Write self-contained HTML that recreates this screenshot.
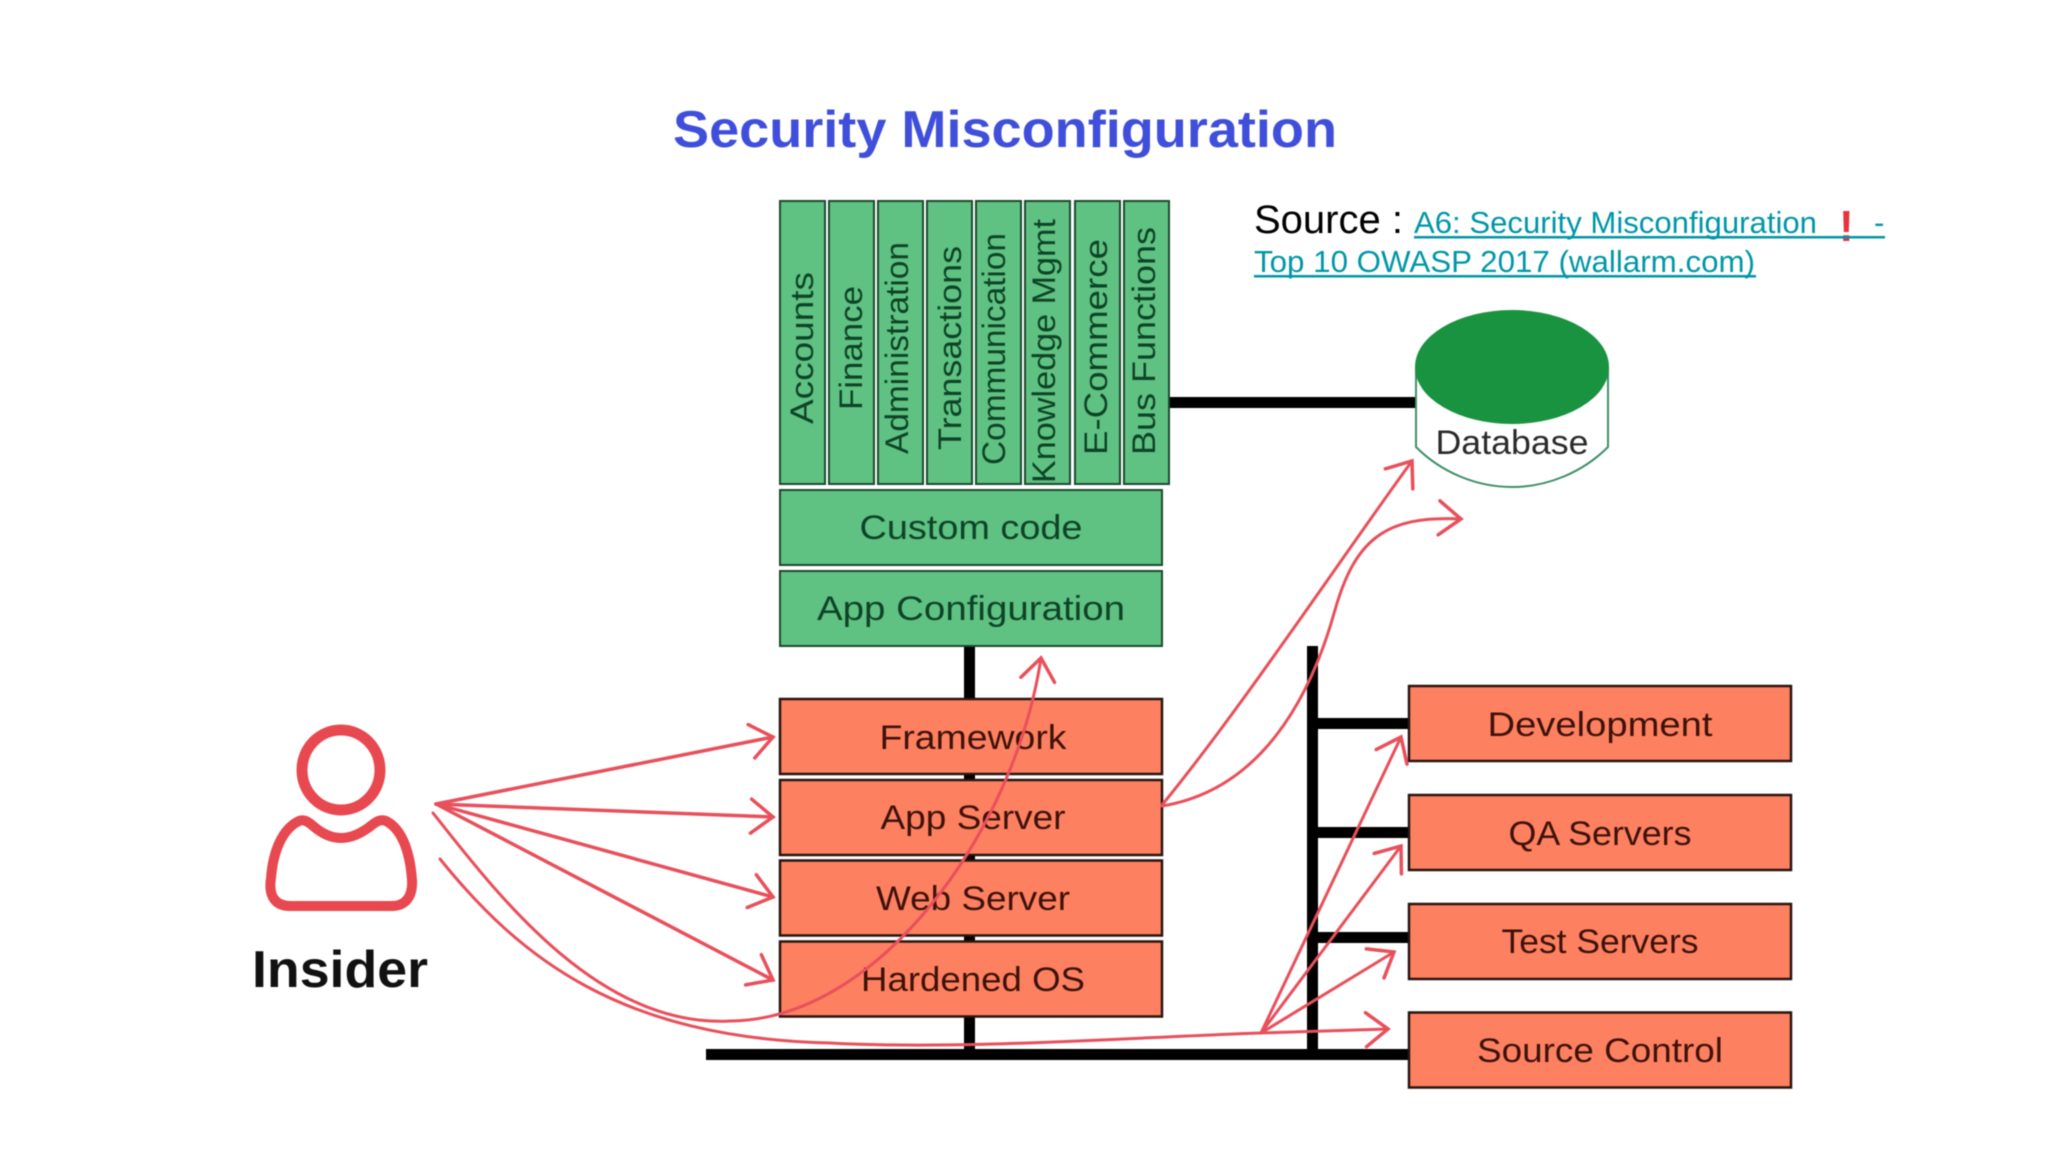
<!DOCTYPE html>
<html><head><meta charset="utf-8"><style>
html,body{margin:0;padding:0;background:#fff}
svg{display:block;filter:blur(0.5px)}
text{font-family:"Liberation Sans",sans-serif}
.g{fill:#5fc182;stroke:#1d4a2e;stroke-width:2}
.o{fill:#fd8060;stroke:#2a1410;stroke-width:2.5}
.gt{fill:#0e4426;font-size:34px;text-anchor:middle}
.ot{fill:#3d120a;font-size:34px;text-anchor:middle}
.v{fill:#0e4426;font-size:32px}
.r{fill:none;stroke:#e8505b;stroke-width:3;stroke-linecap:round}
.rt{stroke-width:3.5}
.l{fill:#0097a7;font-size:31px}
</style></head><body>
<svg width="2048" height="1152" viewBox="0 0 2048 1152" xmlns="http://www.w3.org/2000/svg">
<defs>
<marker id="a" markerUnits="userSpaceOnUse" markerWidth="50" markerHeight="50" refX="30" refY="25" orient="auto">
<path d="M8 8 L30 25 L8 42" fill="none" stroke="#e8505b" stroke-width="3.5" stroke-linecap="round"/>
</marker>
</defs>
<rect width="2048" height="1152" fill="#fff"/>

<text x="673" y="147" font-size="52" font-weight="bold" fill="#3f4fdb" textLength="664" lengthAdjust="spacingAndGlyphs">Security Misconfiguration</text>

<!-- black connectors -->
<rect x="1162" y="397" width="260" height="11" fill="#000"/>
<rect x="967" y="640" width="11" height="415" fill="#000" transform="translate(-3,0)"/>
<rect x="706" y="1049" width="710" height="11" fill="#000"/>
<rect x="1307" y="646" width="11" height="408" fill="#000"/>
<rect x="1307" y="718" width="105" height="11" fill="#000"/>
<rect x="1307" y="827" width="105" height="11" fill="#000"/>
<rect x="1307" y="932" width="105" height="11" fill="#000"/>

<!-- green columns -->
<g transform="translate(-2,-1)">
<rect class="g" x="782" y="202" width="45" height="283"/>
<rect class="g" x="831" y="202" width="45" height="283"/>
<rect class="g" x="880" y="202" width="45" height="283"/>
<rect class="g" x="929" y="202" width="45" height="283"/>
<rect class="g" x="978" y="202" width="45" height="283"/>
<rect class="g" x="1027" y="202" width="45" height="283"/>
<rect class="g" x="1077" y="202" width="45" height="283"/>
<rect class="g" x="1126" y="202" width="45" height="283"/>

<text class="v" transform="translate(815,425) rotate(-90)" textLength="152" lengthAdjust="spacingAndGlyphs">Accounts</text>
<text class="v" transform="translate(864,411) rotate(-90)" textLength="124" lengthAdjust="spacingAndGlyphs">Finance</text>
<text class="v" transform="translate(910,455) rotate(-90)" textLength="212" lengthAdjust="spacingAndGlyphs">Administration</text>
<text class="v" transform="translate(963,451) rotate(-90)" textLength="204" lengthAdjust="spacingAndGlyphs">Transactions</text>
<text class="v" transform="translate(1007,466) rotate(-90)" textLength="232" lengthAdjust="spacingAndGlyphs">Communication</text>
<text class="v" transform="translate(1057,484) rotate(-90)" textLength="264" lengthAdjust="spacingAndGlyphs">Knowledge Mgmt</text>
<text class="v" transform="translate(1109,456) rotate(-90)" textLength="216" lengthAdjust="spacingAndGlyphs">E-Commerce</text>
<text class="v" transform="translate(1157,456) rotate(-90)" textLength="228" lengthAdjust="spacingAndGlyphs">Bus Functions</text>

<rect class="g" x="782" y="491" width="382" height="75"/>
<rect class="g" x="782" y="572" width="382" height="75"/>
<text class="gt" x="973" y="540" textLength="223" lengthAdjust="spacingAndGlyphs">Custom code</text>
<text class="gt" x="973" y="621" textLength="308" lengthAdjust="spacingAndGlyphs">App Configuration</text>
</g>

<!-- orange stack -->
<rect class="o" x="780" y="699" width="382" height="75"/>
<rect class="o" x="780" y="780" width="382" height="75"/>
<rect class="o" x="780" y="860.5" width="382" height="75"/>
<rect class="o" x="780" y="941.5" width="382" height="75"/>
<text class="ot" x="973" y="749" textLength="187" lengthAdjust="spacingAndGlyphs">Framework</text>
<text class="ot" x="973" y="829" textLength="185" lengthAdjust="spacingAndGlyphs">App Server</text>
<text class="ot" x="973" y="910" textLength="194" lengthAdjust="spacingAndGlyphs">Web Server</text>
<text class="ot" x="973" y="991" textLength="224" lengthAdjust="spacingAndGlyphs">Hardened OS</text>

<!-- orange right -->
<rect class="o" x="1409" y="686" width="382" height="75"/>
<rect class="o" x="1409" y="795" width="382" height="75"/>
<rect class="o" x="1409" y="904" width="382" height="75"/>
<rect class="o" x="1409" y="1012.5" width="382" height="75"/>
<text class="ot" x="1600" y="736" textLength="225" lengthAdjust="spacingAndGlyphs">Development</text>
<text class="ot" x="1600" y="845" textLength="183" lengthAdjust="spacingAndGlyphs">QA Servers</text>
<text class="ot" x="1600" y="953" textLength="197" lengthAdjust="spacingAndGlyphs">Test Servers</text>
<text class="ot" x="1600" y="1062" textLength="246" lengthAdjust="spacingAndGlyphs">Source Control</text>

<!-- database -->
<path d="M1416 367 V447 C1441 472 1476 487 1512 487 C1548 487 1583 472 1608 447 V367" fill="#fff" stroke="#3f8f68" stroke-width="2"/>
<ellipse cx="1512" cy="367" rx="97" ry="57" fill="#1a9341"/>
<text x="1512" y="454" font-size="34" fill="#2b2b2b" text-anchor="middle" textLength="153" lengthAdjust="spacingAndGlyphs">Database</text>

<!-- source -->
<text x="1254" y="233" font-size="40" fill="#000">Source :</text>
<text class="l" x="1414" y="233" textLength="403" lengthAdjust="spacingAndGlyphs">A6: Security Misconfiguration</text>
<text x="1839" y="241" font-size="44" font-weight="bold" fill="#e8333c">!</text>
<text class="l" x="1874" y="233">-</text>
<rect x="1414" y="236" width="471" height="2.5" fill="#0097a7"/>
<text class="l" x="1254" y="272" textLength="501" lengthAdjust="spacingAndGlyphs">Top 10 OWASP 2017 (wallarm.com)</text>
<rect x="1254" y="275" width="502" height="2.5" fill="#0097a7"/>

<!-- person -->
<ellipse cx="341" cy="770" rx="39" ry="40" fill="none" stroke="#e8484f" stroke-width="11"/>
<path d="M299 821 C303 819 307 821 312 825 C322 834 332 838 341 838 C352 838 362 833 372 825 C377 821 381 819 386 821 C402 829 410 852 412 880 C413 897 405 906 392 906 H290 C276 906 268 897 271 878 C273 852 282 829 299 821 Z" fill="none" stroke="#e8484f" stroke-width="10" stroke-linejoin="round"/>
<text x="340" y="987" font-size="52" font-weight="bold" fill="#111" text-anchor="middle" textLength="176" lengthAdjust="spacingAndGlyphs">Insider</text>

<!-- red arrows -->
<path class="r rt" d="M436 804 L773 737" marker-end="url(#a)"/>
<path class="r rt" d="M436 804 L773 817" marker-end="url(#a)"/>
<path class="r rt" d="M436 804 L773 897" marker-end="url(#a)"/>
<path class="r rt" d="M436 804 L773 980" marker-end="url(#a)"/>
<path class="r" d="M433 813 C500 898 600 1028 730 1021 C880 1020 1015 830 1041 658" marker-end="url(#a)"/>
<path class="r" d="M440 859 C520 958 620 1038 830 1043 C960 1050 1120 1038 1260 1033 L1388 1029" marker-end="url(#a)"/>
<path class="r" d="M1261 1033 L1401 737" marker-end="url(#a)"/>
<path class="r" d="M1261 1033 L1401 846" marker-end="url(#a)"/>
<path class="r" d="M1261 1033 L1394 952" marker-end="url(#a)"/>
<path class="r" d="M1162 805 C1240 710 1340 560 1412 461" marker-end="url(#a)"/>
<path class="r" d="M1162 806 C1260 790 1310 700 1335 610 C1355 540 1385 515 1461 519" marker-end="url(#a)"/>
</svg>
</body></html>
